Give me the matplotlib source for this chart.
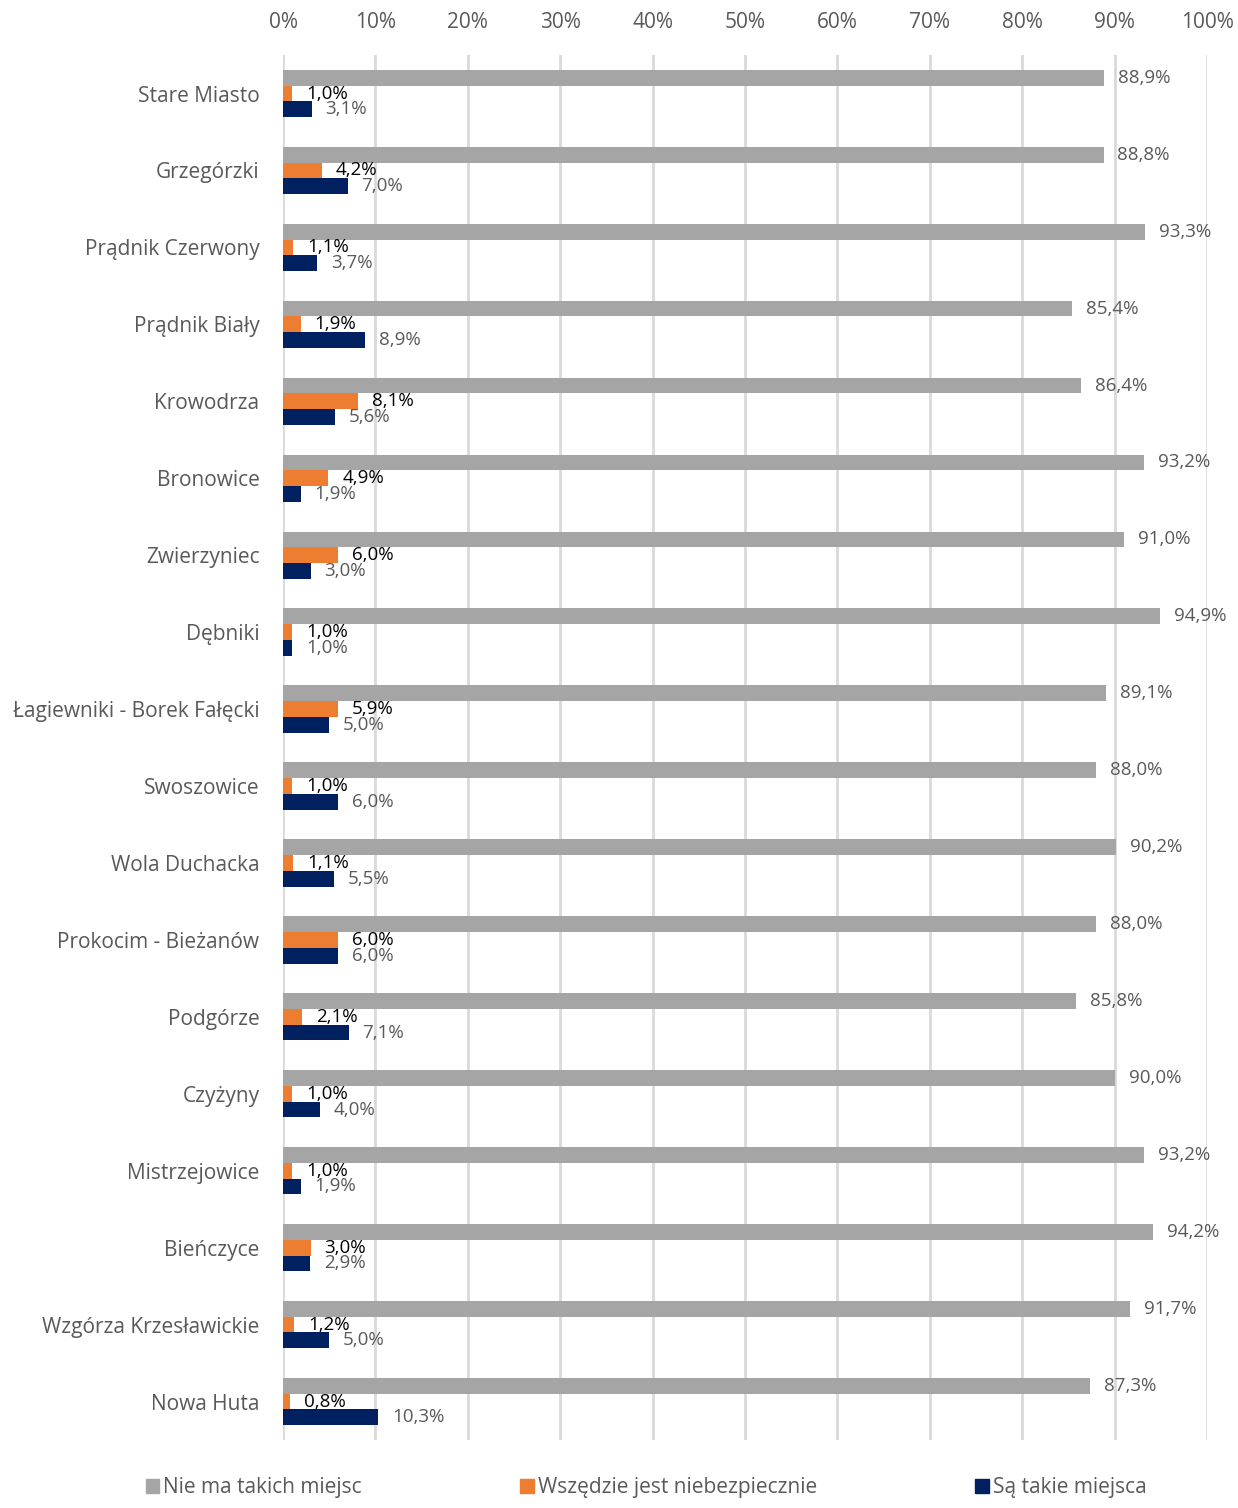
import matplotlib.pyplot as plt
from matplotlib.patches import Patch
import numpy as np

# districts, top to bottom
districts = ['Stare Miasto', 'Grzegórzki', 'Prądnik Czerwony', 'Prądnik Biały',
             'Krowodrza', 'Bronowice', 'Zwierzyniec', 'Dębniki',
             'Łagiewniki - Borek Fałęcki', 'Swoszowice', 'Wola Duchacka',
             'Prokocim - Bieżanów', 'Podgórze', 'Czyżyny', 'Mistrzejowice',
             'Bieńczyce', 'Wzgórza Krzesławickie', 'Nowa Huta']

nie_ma = [88.9, 88.8, 93.3, 85.4, 86.4, 93.2, 91.0, 94.9, 89.1,
          88.0, 90.2, 88.0, 85.8, 90.0, 93.2, 94.2, 91.7, 87.3]
wszedzie = [1.0, 4.2, 1.1, 1.9, 8.1, 4.9, 6.0, 1.0, 5.9,
            1.0, 1.1, 6.0, 2.1, 1.0, 1.0, 3.0, 1.2, 0.8]
sa_takie = [3.1, 7.0, 3.7, 8.9, 5.6, 1.9, 3.0, 1.0, 5.0,
            6.0, 5.5, 6.0, 7.1, 4.0, 1.9, 2.9, 5.0, 10.3]

series_names = ['Nie ma takich miejsc', 'Wszędzie jest niebezpiecznie', 'Są takie miejsca']
colors = ['#a5a5a5', '#ed7d31', '#002060']
label_colors = ['#595959', '#000000', '#595959']

plt.rcParams['font.family'] = ['Open Sans', 'DejaVu Sans']

fig = plt.figure(figsize=(12.38, 15.08), dpi=100)
ax = fig.add_axes([0.2286, 0.0451, 0.7464, 0.9184])

y = np.arange(len(districts))
h = 0.205
offsets = [-h, 0, h]

for vals, off, col, lcol in zip([nie_ma, wszedzie, sa_takie], offsets, colors, label_colors):
    ax.barh(y + off, vals, height=h, color=col, zorder=3)
    for yi, v in zip(y, vals):
        ax.annotate(f'{v:.1f}%'.replace('.', ','), (v, yi + off),
                    xytext=(10, 0), textcoords='offset points',
                    ha='left', va='center', fontsize=13.5, color=lcol, zorder=4)

ax.set_xlim(0, 100)
ax.set_ylim(len(districts) - 0.5, -0.5)
ax.set_xticks(np.arange(0, 101, 10))
ax.set_xticklabels([f'{t}%' for t in range(0, 101, 10)])
ax.xaxis.tick_top()
ax.set_yticks(y)
ax.set_yticklabels(districts)
ax.tick_params(axis='x', length=0, pad=16, labelsize=15, labelcolor='#595959')
ax.tick_params(axis='y', length=0, pad=17, labelsize=15, labelcolor='#595959')
ax.grid(axis='x', color='#d9d9d9', linewidth=2, zorder=0)
for s in ax.spines.values():
    s.set_visible(False)

handles = [Patch(color=c) for c in colors]
fig.legend(handles, series_names, loc='lower center', bbox_to_anchor=(0.522, -0.006),
           ncol=3, frameon=False, fontsize=15, labelcolor='#595959',
           handlelength=0.65, handleheight=0.65, handletextpad=0.2, columnspacing=7.6)

fig.savefig('out.png', dpi=100)
